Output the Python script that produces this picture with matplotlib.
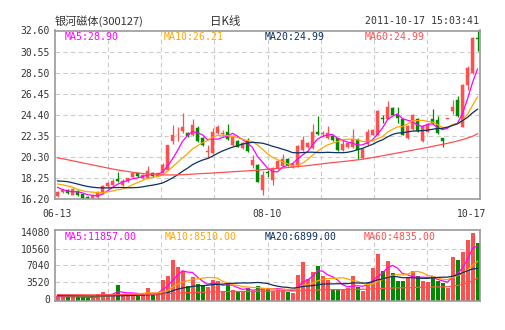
import numpy as np
import pandas as pd
import matplotlib
matplotlib.use("Agg")
import matplotlib.pyplot as plt
from matplotlib.transforms import blended_transform_factory

# ---------------- data ----------------
title_name = "银河磁体(300127)"
title_kind = "日K线"
title_time = "2011-10-17 15:03:41"

date_labels = ["06-13", "08-10", "10-17"]
date_label_idx = [0, 42, 84]

opens = [16.45, 16.85, 17.10, 16.60, 17.00, 16.65, 16.40, 16.30, 16.35, 16.80,
         17.45, 17.60, 18.15, 17.60, 17.95, 18.35, 18.70, 18.20, 18.25, 18.75,
         18.45, 18.75, 19.05, 21.80, 22.40, 22.80, 22.60, 22.45, 23.10, 22.10,
         20.78, 20.70, 22.60, 22.55, 22.75, 21.45, 21.80, 21.15, 21.80, 19.50,
         19.50, 17.10, 18.75, 18.05, 19.20, 19.40, 20.05, 19.30, 19.40, 21.00,
         21.30, 21.15, 22.75, 22.55, 22.10, 22.30, 22.10, 20.95, 21.25, 21.30,
         21.95, 20.20, 21.55, 22.45, 22.45, 24.02, 24.00, 25.05, 24.40, 23.95,
         22.10, 23.00, 24.00, 21.80, 22.75, 24.00, 23.90, 22.10, 23.98, 24.80,
         25.80, 23.25, 27.30, 28.45, 31.85]
highs = [17.00, 17.20, 17.15, 17.30, 17.05, 16.70, 16.45, 16.55, 17.00, 17.60,
         17.90, 18.15, 18.85, 18.10, 18.25, 18.75, 18.75, 18.60, 19.45, 18.80,
         18.75, 19.75, 21.50, 23.40, 23.25, 24.55, 22.70, 24.00, 23.30, 22.20,
         21.45, 23.10, 23.45, 22.90, 23.50, 22.40, 21.90, 21.75, 22.10, 20.50,
         19.60, 18.90, 19.00, 19.30, 20.00, 20.60, 20.15, 19.70, 21.45, 22.35,
         21.75, 23.50, 24.30, 22.80, 23.30, 22.45, 22.15, 21.90, 21.75, 23.00,
         22.10, 21.10, 23.00, 23.05, 24.90, 24.40, 25.70, 25.20, 25.20, 24.00,
         23.40, 24.50, 24.10, 23.40, 23.60, 24.95, 24.30, 22.15, 23.98, 25.85,
         26.20, 27.40, 29.10, 31.95, 32.60]
lows = [16.35, 16.80, 16.70, 16.55, 16.50, 16.20, 16.20, 16.25, 16.20, 16.70,
        17.40, 17.55, 17.90, 17.50, 17.90, 18.30, 18.35, 18.15, 18.20, 18.35,
        18.40, 18.70, 19.00, 21.60, 21.80, 22.60, 22.20, 22.30, 21.70, 21.40,
        20.20, 20.60, 22.50, 22.30, 21.95, 21.40, 21.25, 21.10, 20.80, 19.20,
        17.85, 16.60, 18.30, 17.60, 19.10, 19.30, 19.45, 19.20, 19.35, 20.90,
        21.20, 21.05, 22.45, 22.30, 22.00, 21.85, 20.90, 20.85, 21.15, 21.20,
        20.10, 20.10, 21.45, 22.40, 22.40, 23.60, 23.95, 24.35, 23.60, 22.40,
        22.00, 22.90, 22.75, 21.70, 22.70, 23.50, 22.55, 21.30, 23.98, 24.50,
        24.20, 23.20, 26.80, 28.40, 30.60]
closes = [16.90, 17.10, 16.80, 17.20, 16.60, 16.25, 16.25, 16.50, 16.90, 17.50,
          17.80, 18.00, 17.95, 18.00, 18.20, 18.70, 18.40, 18.55, 18.95, 18.40,
          18.70, 19.50, 21.45, 22.45, 22.45, 23.20, 22.35, 23.40, 21.80, 21.50,
          20.80, 22.75, 23.25, 22.65, 22.05, 22.30, 21.30, 21.65, 20.85, 20.00,
          17.90, 18.55, 18.72, 19.20, 19.85, 20.10, 19.50, 19.60, 21.35, 21.90,
          21.65, 22.75, 22.55, 22.60, 22.60, 21.90, 20.95, 21.60, 21.65, 22.05,
          21.00, 21.05, 22.75, 22.95, 24.80, 24.00, 25.15, 24.40, 24.05, 22.45,
          23.30, 24.40, 22.80, 23.30, 23.50, 23.55, 22.60, 21.80, 23.98, 25.20,
          24.30, 27.30, 28.95, 31.88, 31.80]
volumes = [563, 352, 282, 493, 282, 282, 70, 282, 986, 1478,
           986, 986, 2886, 634, 634, 986, 493, 986, 2253, 986,
           1126, 4013, 4858, 8166, 6688, 5773, 2605, 4506, 3098, 2605,
           2464, 3872, 3661, 1549, 3168, 1901, 1549, 1690, 2253, 1549,
           2605, 2253, 2253, 1549, 2042, 2042, 1408, 1197, 4998, 7744,
           4224, 5562, 6899, 4717, 3872, 2112, 2112, 2112, 2253, 4717,
           2394, 1690, 3309, 6477, 9504, 5773, 7885, 5421, 3661, 3802,
           4506, 5914, 4717, 3802, 3450, 4717, 3661, 3309, 2253, 8800,
           8237, 9856, 12320, 13798, 11757]

# moving-average values before enough in-window days exist
ma5_head = [17.34, 17.12, 16.98, 16.90]
ma10_head = [17.66, 17.58, 17.47, 17.35, 17.15, 17.00, 16.91, 16.87, 16.82]
ma20_head = [17.96, 17.93, 17.89, 17.78, 17.66, 17.53, 17.42, 17.35, 17.30, 17.28,
             17.28, 17.30, 17.32, 17.32, 17.30, 17.30, 17.32, 17.38, 17.47]
ma60_line = [20.20, 20.12, 20.02, 19.92, 19.82, 19.72, 19.62, 19.52, 19.42, 19.32,
             19.22, 19.12, 19.03, 18.95, 18.88, 18.80, 18.74, 18.68, 18.63, 18.60,
             18.57, 18.55, 18.54, 18.54, 18.55, 18.57, 18.59, 18.62, 18.65, 18.68,
             18.70, 18.73, 18.76, 18.79, 18.82, 18.85, 18.88, 18.91, 18.94, 18.97,
             19.00, 19.05, 19.10, 19.14, 19.18, 19.22, 19.26, 19.30, 19.35, 19.40,
             19.45, 19.51, 19.57, 19.63, 19.69, 19.74, 19.79, 19.84, 19.89, 19.95,
             20.01, 20.07, 20.15, 20.23, 20.32, 20.41, 20.50, 20.59, 20.68, 20.77,
             20.86, 20.95, 21.04, 21.13, 21.22, 21.32, 21.42, 21.52, 21.62, 21.73,
             21.85, 21.98, 22.13, 22.30, 22.55]
vma5_head = [480, 450, 420, 400]
vma10_head = [620, 600, 580, 560, 540, 520, 500, 500, 500]
vma20_head = [650, 640, 630, 620, 610, 600, 590, 580, 580, 580,
              590, 600, 620, 640, 660, 690, 720, 760, 800]
vma60_line = [850, 850, 845, 840, 835, 830, 825, 820, 820, 825,
              830, 840, 860, 870, 880, 890, 900, 910, 930, 940,
              950, 990, 1040, 1120, 1190, 1250, 1280, 1320, 1350, 1380,
              1400, 1430, 1460, 1470, 1500, 1510, 1520, 1530, 1540, 1550,
              1560, 1580, 1600, 1610, 1630, 1640, 1650, 1660, 1690, 1740,
              1770, 1800, 1840, 1870, 1890, 1900, 1910, 1920, 1930, 1960,
              1980, 1990, 2010, 2060, 2130, 2170, 2220, 2260, 2280, 2300,
              2320, 2360, 2390, 2410, 2430, 2460, 2480, 2500, 2520, 2640,
              2790, 3000, 3350, 3800, 4300]

price_ticks = [16.20, 18.25, 20.30, 22.35, 24.40, 26.45, 28.50, 30.55, 32.60]
volume_ticks = [0, 3520, 7040, 10560, 14080]

price_legend = ["MA5:28.90", "MA10:26.21", "MA20:24.99", "MA60:24.99"]
volume_legend = ["MA5:11857.00", "MA10:8510.00", "MA20:6899.00", "MA60:4835.00"]

# ---------------- style ----------------
W, H = 505, 330
RED = "#FF5050"
GREEN = "#008A00"
MA_COLORS = ["#FF00FF", "#FFA500", "#0B3061", "#FF4F4F"]
GRID = "#CCCCCC"
BORDER = "#999999"
TXT = "#333333"
MONO = "DejaVu Sans Mono"
CJK = ["Noto Sans CJK SC", "DejaVu Sans"]
VOL_FLOOR = -420
VOL_TOP = 14430


def ma(values, n, head):
    out = pd.Series(values, dtype=float).rolling(n).mean().to_numpy()
    out[: n - 1] = head
    return out


def fx(px):
    return px / W


def fy(py):
    return 1 - py / H


o = np.array(opens)
h = np.array(highs)
l = np.array(lows)
c = np.array(closes)
v = np.array(volumes, dtype=float)
idx = np.arange(len(c))
up = c >= o
cols = np.where(up, RED, GREEN)

fig = plt.figure(figsize=(W / 100, H / 100), dpi=100)
fig.patch.set_facecolor("white")

ax = fig.add_axes([fx(55), fy(199), fx(480) - fx(55), fy(30.5) - fy(199)])
axv = fig.add_axes([fx(55), fy(300.7), fx(480) - fx(55), fy(230.3) - fy(300.7)])

n = len(c)
for a in (ax, axv):
    a.set_xlim(-0.5, n - 0.5)
    for s in a.spines.values():
        s.set_color(BORDER)
        s.set_linewidth(1.2)
    a.set_xticks([])
    vx = [-0.5 + n * k / 8 for k in range(1, 8)]
    for xv in vx:
        a.axvline(xv, color=GRID, lw=0.8, ls=(0, (4, 3)), zorder=0)
    a.tick_params(axis="y", length=0, pad=3.5, labelsize=7.0, labelcolor=TXT)

# ----- price panel -----
ax.set_ylim(price_ticks[0], price_ticks[-1])
ax.set_yticks(price_ticks)
ax.set_yticklabels([f"{t:.2f}" for t in price_ticks], family=MONO)
for t in price_ticks[1:-1]:
    ax.axhline(t, color=GRID, lw=0.8, ls=(0, (4, 3)), zorder=0)

ax.vlines(idx, l, h, colors=cols, lw=0.9, zorder=2)
body_lo = np.minimum(o, c)
body_h = np.maximum(np.abs(c - o), 0.06)
ax.bar(idx, body_h, bottom=body_lo, width=0.72, color=cols, edgecolor=cols,
       linewidth=0.3, zorder=3)

ma5 = ma(c, 5, ma5_head)
ma10 = ma(c, 10, ma10_head)
ma20 = ma(c, 20, ma20_head)
for series, col in zip([ma5, ma10, ma20, np.array(ma60_line)], MA_COLORS):
    ax.plot(idx, series, color=col, lw=0.9, zorder=4)

# ----- volume panel -----
axv.set_ylim(VOL_FLOOR, VOL_TOP)
axv.set_yticks(volume_ticks)
axv.set_yticklabels([str(t) for t in volume_ticks], family=MONO)
for t in volume_ticks[1:-1]:
    axv.axhline(t, color=GRID, lw=0.8, ls=(0, (4, 3)), zorder=0)
axv.bar(idx, v - VOL_FLOOR, bottom=VOL_FLOOR, width=0.8, color=cols,
        edgecolor="none", zorder=2)
vma5 = ma(v, 5, vma5_head)
vma10 = ma(v, 10, vma10_head)
vma20 = ma(v, 20, vma20_head)
for series, col in zip([vma5, vma10, vma20, np.array(vma60_line)], MA_COLORS):
    axv.plot(idx, series, color=col, lw=0.9, zorder=3)

# ----- header / legends -----
fig.text(fx(55), fy(21), title_name, family=CJK, fontsize=8.0, color=TXT,
         ha="left", va="center")
fig.text(fx(225), fy(21), title_kind, family=CJK, fontsize=8.3, color=TXT,
         ha="center", va="center")
fig.text(fx(479), fy(21), title_time, family=MONO, fontsize=7.1, color=TXT,
         ha="right", va="center")

leg_x = [65, 164, 265, 365]
for txt, col, px in zip(price_legend, MA_COLORS, leg_x):
    fig.text(fx(px), fy(36.5), txt, family=MONO, fontsize=7.1, color=col,
             ha="left", va="center")
vleg_x = [65, 165, 265, 364]
for txt, col, px in zip(volume_legend, MA_COLORS, vleg_x):
    fig.text(fx(px), fy(236.5), txt, family=MONO, fontsize=7.1, color=col,
             ha="left", va="center")

# ----- date labels under price panel -----
trans = blended_transform_factory(ax.transData, fig.transFigure)
for lab, i in zip(date_labels, date_label_idx):
    ha = "center"
    xpos = i
    if i == date_label_idx[-1]:
        ha = "right"
        xpos = i + 1.8
    ax.text(xpos, fy(214), lab, transform=trans, family=MONO, fontsize=7.0,
            color=TXT, ha=ha, va="center", clip_on=False)

fig.savefig("out.png", dpi=100, facecolor="white")
